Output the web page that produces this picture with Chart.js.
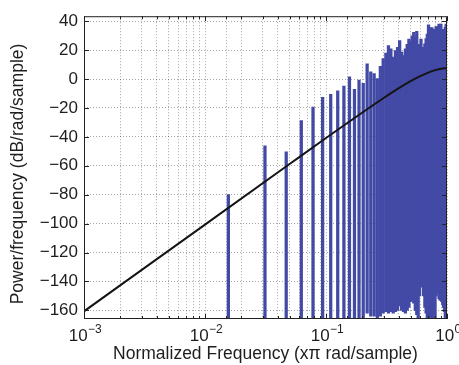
<!DOCTYPE html>
<html>
<head>
<meta charset="utf-8">
<script src="https://cdn.jsdelivr.net/npm/chart.js@4"></script>
<style>
  body { margin: 0; background: #fff; }
  #wrap { width: 459px; height: 365px; }
</style>
</head>
<body>
<div id="wrap"><canvas id="chart" width="459" height="365"></canvas></div>
<script>
// Periodogram lines (harmonics of 1/64, x pi rad/sample)
const harmFreq = [
  0.0156, 0.0313, 0.0469, 0.0625, 0.0781, 0.0938, 0.1094, 0.125,
  0.1406, 0.1563, 0.1719, 0.1875, 0.2031, 0.2188, 0.2344, 0.25,
  0.2656, 0.2813, 0.2969, 0.3125, 0.3281, 0.3438, 0.3594, 0.375,
  0.3906, 0.4063, 0.4219, 0.4375, 0.4531, 0.4688, 0.4844, 0.5,
  0.5156, 0.5313, 0.5469, 0.5625, 0.5781, 0.5938, 0.6094, 0.625,
  0.6406, 0.6563, 0.6719, 0.6875, 0.7031, 0.7188, 0.7344, 0.75,
  0.7656, 0.7813, 0.7969, 0.8125, 0.8281, 0.8438, 0.8594, 0.875,
  0.8906, 0.9063, 0.9219, 0.9375, 0.9531, 0.9688, 0.9844, 1.0
];
// top of each line (dB/rad/sample)
const harmPeak = [
  -80, -46.2, -50.3, -28.7, -19.4, -12.6, -10.6, -8.2,
  -4.8, 1.6, -7.1, -0.7, -3.0, 10.6, 5.0, 3.8,
  0.4, 8.8, 14.1, 18, 23.1, 20.9, 15.2, 19.7,
  22, 26.6, 18.6, 16.3, 20.9, 24, 27.7, 26,
  30, 32.3, 28.9, 33.0, 22.0, 24, 27.7, 20.9,
  22, 24.3, 28, 31.1, 37.5, 35.7, 33, 35.7,
  34.5, 33, 34.5, 36.4, 35, 36.4, 38, 37,
  38, 34.5, 33, 34.5, 34, 36, 38, 35
];
// bottom of each line (-166 = down to the axis)
const harmFloor = [
  -166, -166, -166, -166, -166, -166, -166, -166,
  -166, -166, -166, -166, -166, -162, -164, -164,
  -165, -164, -162, -161, -162, -161, -162, -161,
  -160, -157, -160, -161, -162, -160, -158, -154,
  -153, -155, -160, -163, -166, -150, -142, -144,
  -150, -158, -162, -166, -166, -166, -166, -166,
  -166, -166, -166, -150, -146, -148, -152, -153,
  -153, -154, -156, -158, -161, -166, -166, -166
];

// theoretical PSD (black curve)
const psdFreq = [0.001, 0.01, 0.05, 0.1, 0.15, 0.2, 0.3, 0.4, 0.5, 0.6, 0.7, 0.8, 0.9, 1.0];
const psdDb = [-160.7, -100.7, -58.8, -40.8, -30.4, -23.1, -13.1, -6.3, -1.5, 2.0, 4.5, 6.2, 7.2, 7.5];

const yTickStep = 20;
const yTitle = 'Power/frequency (dB/rad/sample)';
const font = '"Liberation Sans", Arial, Helvetica, sans-serif';
const textColor = '#1e1e1e';

// Matlab style box, inward ticks, 10^n labels and the y title
const boxPlugin = {
  id: 'box',
  afterDraw(chart) {
    const { ctx, chartArea: a, scales: { x, y } } = chart;
    ctx.save();
    ctx.strokeStyle = '#222';
    ctx.lineWidth = 1;
    ctx.beginPath();
    x.ticks.forEach(t => {
      const px = Math.round(x.getPixelForValue(t.value)) + 0.5;
      const major = Math.abs(Math.log10(t.value) - Math.round(Math.log10(t.value))) < 1e-6;
      const len = major ? 5 : 3;
      ctx.moveTo(px, a.bottom); ctx.lineTo(px, a.bottom - len);
      ctx.moveTo(px, a.top); ctx.lineTo(px, a.top + len);
    });
    y.ticks.forEach(t => {
      const py = Math.round(y.getPixelForValue(t.value)) + 0.5;
      ctx.moveTo(a.left, py); ctx.lineTo(a.left + 5, py);
      ctx.moveTo(a.right, py); ctx.lineTo(a.right - 5, py);
    });
    ctx.stroke();
    ctx.strokeRect(a.left + 0.5, a.top + 0.5, a.right - a.left - 1, a.bottom - a.top - 1);

    // x tick labels: 10 with superscript exponent
    ctx.fillStyle = textColor;
    ctx.textBaseline = 'alphabetic';
    ctx.textAlign = 'left';
    x.ticks.forEach(t => {
      const e = Math.round(Math.log10(t.value));
      if (Math.abs(Math.log10(t.value) - e) > 1e-6) return;
      const base = '10';
      const exp = e < 0 ? '\u2212' + Math.abs(e) : String(e);
      ctx.font = '17px ' + font;
      const wb = ctx.measureText(base).width;
      ctx.font = '12px ' + font;
      const we = ctx.measureText(exp).width;
      const px = x.getPixelForValue(t.value);
      const x0 = px - (wb + we) / 2 + 1;
      ctx.font = '17px ' + font;
      ctx.fillText(base, x0, 341);
      ctx.font = '12px ' + font;
      ctx.fillText(exp, x0 + wb + 0.5, 333);
    });

    // y title, rotated
    ctx.translate(18, 174);
    ctx.rotate(-Math.PI / 2);
    ctx.textAlign = 'center';
    ctx.textBaseline = 'middle';
    ctx.font = '17.5px ' + font;
    ctx.fillText(yTitle, 0, 0);
    ctx.restore();
  }
};

const ctx = document.getElementById('chart').getContext('2d');
new Chart(ctx, {
  type: 'bar',
  data: {
    datasets: [
      {
        type: 'line',
        data: psdFreq.map((f, i) => ({ x: f, y: psdDb[i] })),
        borderColor: '#151515',
        borderWidth: 2,
        pointRadius: 0,
        cubicInterpolationMode: 'monotone',
        order: 0
      },
      {
        type: 'bar',
        data: harmFreq.map((f, i) => ({ x: f, y: [harmFloor[i], harmPeak[i]] })),
        backgroundColor: '#434aa6',
        borderWidth: 0,
        barThickness: 2.6,
        grouped: false,
        order: 1
      }
    ]
  },
  options: {
    responsive: false,
    animation: false,
    events: [],
    layout: { padding: { top: 12, right: 12, left: 0, bottom: 0 } },
    plugins: { legend: { display: false }, tooltip: { enabled: false } },
    scales: {
      x: {
        type: 'logarithmic',
        min: 0.001,
        max: 1,
        offset: false,
        grid: { offset: false, color: 'rgba(0,0,0,0.35)', lineWidth: 1, drawTicks: false },
        border: { display: false, dash: [1, 2] },
        ticks: { display: false },
        title: {
          display: true,
          text: 'Normalized Frequency (x\u03c0 rad/sample)',
          color: textColor,
          font: { family: font, size: 17.5 },
          padding: { top: 0, bottom: 0 }
        },
        afterFit: s => { s.height = 46; }
      },
      y: {
        min: -166,
        max: 43.5,
        grid: { color: 'rgba(0,0,0,0.35)', lineWidth: 1, drawTicks: false },
        border: { display: false, dash: [1, 2] },
        ticks: {
          stepSize: yTickStep,
          includeBounds: false,
          padding: 6,
          color: textColor,
          font: { family: font, size: 17 },
          callback: v => (v < 0 ? '\u2212' + Math.abs(v) : String(v))
        },
        afterFit: s => { s.width = 84; }
      }
    }
  },
  plugins: [boxPlugin]
});
</script>
</body>
</html>
